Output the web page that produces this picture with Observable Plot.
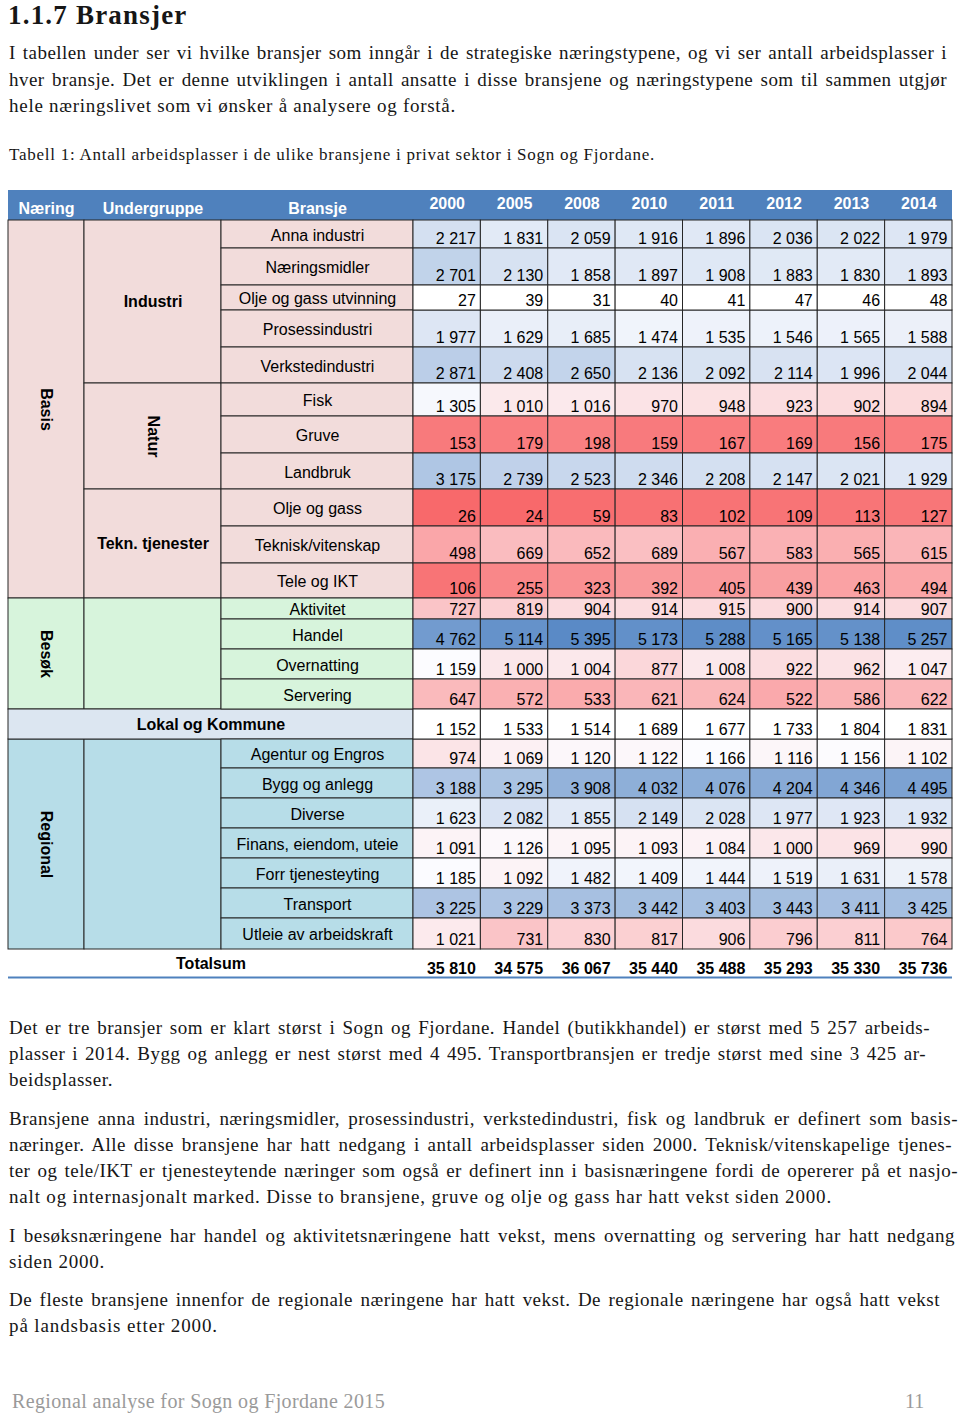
<!DOCTYPE html>
<html><head><meta charset="utf-8">
<script src="https://cdn.jsdelivr.net/npm/d3@7"></script>
<script src="https://cdn.jsdelivr.net/npm/@observablehq/plot@0.6"></script>
<style>
html,body{margin:0;padding:0;background:#fff;}
body{width:960px;height:1413px;position:relative;overflow:hidden;}
.serif{font-family:"Liberation Serif","DejaVu Serif",serif;color:#161616;position:absolute;left:9px;}
.line{display:block;width:max-content;white-space:nowrap;}
#table{position:absolute;left:0;top:185px;}
</style></head><body>
<div id="table"></div>
<script>
// ---------- DATA ----------
const years = ["2000","2005","2008","2010","2011","2012","2013","2014"];
const bransjer = ["Anna industri","Næringsmidler","Olje og gass utvinning","Prosessindustri","Verkstedindustri",
  "Fisk","Gruve","Landbruk","Olje og gass","Teknisk/vitenskap","Tele og IKT",
  "Aktivitet","Handel","Overnatting","Servering","Lokal og Kommune",
  "Agentur og Engros","Bygg og anlegg","Diverse","Finans, eiendom, uteie","Forr tjenesteyting","Transport","Utleie av arbeidskraft"];
const naering = ["Basis","Basis","Basis","Basis","Basis","Basis","Basis","Basis","Basis","Basis","Basis",
  "Besøk","Besøk","Besøk","Besøk","Lokal og Kommune",
  "Regional","Regional","Regional","Regional","Regional","Regional","Regional"];
const undergruppe = ["Industri","Industri","Industri","Industri","Industri","Natur","Natur","Natur",
  "Tekn. tjenester","Tekn. tjenester","Tekn. tjenester","","","","","","","","","","","",""];
const verdier = [
  [2217,1831,2059,1916,1896,2036,2022,1979],
  [2701,2130,1858,1897,1908,1883,1830,1893],
  [27,39,31,40,41,47,46,48],
  [1977,1629,1685,1474,1535,1546,1565,1588],
  [2871,2408,2650,2136,2092,2114,1996,2044],
  [1305,1010,1016,970,948,923,902,894],
  [153,179,198,159,167,169,156,175],
  [3175,2739,2523,2346,2208,2147,2021,1929],
  [26,24,59,83,102,109,113,127],
  [498,669,652,689,567,583,565,615],
  [106,255,323,392,405,439,463,494],
  [727,819,904,914,915,900,914,907],
  [4762,5114,5395,5173,5288,5165,5138,5257],
  [1159,1000,1004,877,1008,922,962,1047],
  [647,572,533,621,624,522,586,622],
  [1152,1533,1514,1689,1677,1733,1804,1831],
  [974,1069,1120,1122,1166,1116,1156,1102],
  [3188,3295,3908,4032,4076,4204,4346,4495],
  [1623,2082,1855,2149,2028,1977,1923,1932],
  [1091,1126,1095,1093,1084,1000,969,990],
  [1185,1092,1482,1409,1444,1519,1631,1578],
  [3225,3229,3373,3442,3403,3443,3411,3425],
  [1021,731,830,817,906,796,811,764]
];
const totalsum = [35810,34575,36067,35440,35488,35293,35330,35736];
const utenFarge = ["Olje og gass utvinning","Lokal og Kommune"];
const headerLabels = ["Næring","Undergruppe","Bransje"];

// ---------- LAYOUT ----------
const svgTop = 185;
const colEdges = [8, 84, 221, 413, 952];
const rowHeights = [28,37,25,37,36,33,37,36,37,37,35,21,30,30,30,30,29,30,30,30,30,30,31];
const headerY = [190, 220];
const totalY = 963, totalNumY = 968, totalLineY = 977;
const groupFill = {"Basis":"#F2DCDB","Besøk":"#D7F4DC","Lokal og Kommune":"#DCE6F1","Regional":"#B7DDE8"};
const headerFill = "#4F81BD";
const border = "#262626";

const yw = (colEdges[4]-colEdges[3])/years.length;
const yearX1 = i => colEdges[3] + i*yw;
const rowTop = []; let acc = headerY[1] - svgTop;
rowHeights.forEach(h => {rowTop.push(acc); acc += h;});
const rowBot = rowTop.map((t,i)=>t+rowHeights[i]);

const nb = d3.formatLocale({decimal:",", thousands:"\u00a0", grouping:[3], currency:["","kr"]}).format(",d");

const rows = bransjer.map((b,i)=>({b, n:naering[i], u:undergruppe[i], y1:rowTop[i], y2:rowBot[i]}));
function spans(key, filt){
  const out=[]; rows.forEach((r,i)=>{
    if(!filt(r)) return;
    const last=out[out.length-1];
    if(last && last.k===r[key] && last.n===r.n && last.end===i-1){last.end=i; last.y2=r.y2;}
    else out.push({k:r[key], n:r.n, start:i, end:i, y1:r.y1, y2:r.y2});
  }); return out;
}
const nSpans = spans("n", r=>r.n!=="Lokal og Kommune");
const uSpans = spans("u", r=>r.n!=="Lokal og Kommune");
const lokal = rows.filter(r=>r.n==="Lokal og Kommune");
const bRows = rows.filter(r=>r.n!=="Lokal og Kommune");

const cells = [];
rows.forEach((r,i)=>years.forEach((yr,j)=>cells.push({
  v: verdier[i][j], yr, b:r.b, x1:yearX1(j), x2:yearX1(j+1), y1:r.y1, y2:r.y2,
  farget: !utenFarge.includes(r.b)})));
const totals = totalsum.map((v,j)=>({v, x:yearX1(j+1)-5}));

const headerCells = headerLabels.map((t,i)=>({t, x:(colEdges[i]+colEdges[i+1])/2}));
const yearHead = years.map((t,j)=>({t, x:(yearX1(j)+yearX1(j+1))/2}));

const chart = Plot.plot({
  width: 960, height: 800, margin: 0,
  x: {type:"identity", axis:null}, y: {type:"identity", axis:null},
  color: {type:"linear", domain:[24, 1160, 5395], range:["#F8696B","#FCFCFF","#5A8AC6"], interpolate:"rgb"},
  style: {fontFamily:"'Liberation Sans', Arial, sans-serif", background:"transparent", overflow:"visible"},
  marks: [
    Plot.rect([0], {x1:colEdges[0], x2:colEdges[4], y1:headerY[0]-svgTop, y2:headerY[1]-svgTop, fill:headerFill}),
    Plot.text(headerCells, {x:"x", y:208-svgTop, text:"t", fill:"white", fontWeight:"bold", fontSize:16}),
    Plot.text(yearHead, {x:"x", y:203-svgTop, text:"t", fill:"white", fontWeight:"bold", fontSize:16}),
    Plot.rect(nSpans, {x1:colEdges[0], x2:colEdges[1], y1:"y1", y2:"y2", fill:d=>groupFill[d.n], stroke:border}),
    Plot.text(nSpans, {x:(colEdges[0]+colEdges[1])/2, y:d=>(d.y1+d.y2)/2, text:"k", rotate:90, fontWeight:"bold", fontSize:16, fill:"black"}),
    Plot.rect(uSpans, {x1:colEdges[1], x2:colEdges[2], y1:"y1", y2:"y2", fill:d=>groupFill[d.n], stroke:border}),
    Plot.text(uSpans.filter(d=>d.k && d.k!=="Natur"), {x:(colEdges[1]+colEdges[2])/2, y:d=>(d.y1+d.y2)/2, text:"k", fontWeight:"bold", fontSize:16, fill:"black"}),
    Plot.text(uSpans.filter(d=>d.k==="Natur"), {x:(colEdges[1]+colEdges[2])/2, y:d=>(d.y1+d.y2)/2, text:"k", rotate:90, fontWeight:"bold", fontSize:16, fill:"black"}),
    Plot.rect(lokal, {x1:colEdges[0], x2:colEdges[3], y1:"y1", y2:"y2", fill:d=>groupFill[d.n], stroke:border}),
    Plot.text(lokal, {x:(colEdges[0]+colEdges[3])/2, y:d=>(d.y1+d.y2)/2+0.5, text:"b", fontWeight:"bold", fontSize:16, fill:"black"}),
    Plot.rect(bRows, {x1:colEdges[2], x2:colEdges[3], y1:"y1", y2:"y2", fill:d=>groupFill[d.n], stroke:border}),
    Plot.text(bRows, {x:(colEdges[2]+colEdges[3])/2, y:d=>d.y1+(d.y2-d.y1)/2+1, text:"b", fontSize:16, fill:"black"}),
    Plot.rect(cells.filter(d=>d.farget), {x1:"x1", x2:"x2", y1:"y1", y2:"y2", fill:"v", stroke:border}),
    Plot.rect(cells.filter(d=>!d.farget), {x1:"x1", x2:"x2", y1:"y1", y2:"y2", fill:"white", stroke:border}),
    Plot.text(cells, {x:d=>d.x2-5, y:d=>d.y2-9.5, text:d=>nb(d.v), textAnchor:"end", fontSize:16, fill:"black"}),
    Plot.text(["Totalsum"], {x:(colEdges[0]+colEdges[3])/2, y:totalY-svgTop, text:d=>d, fontWeight:"bold", fontSize:16, fill:"black"}),
    Plot.text(totals, {x:"x", y:totalNumY-svgTop, text:d=>nb(d.v), textAnchor:"end", fontWeight:"bold", fontSize:16, fill:"black"}),
    Plot.ruleY([totalLineY-svgTop], {x1:colEdges[0], x2:colEdges[4], stroke:headerFill, strokeWidth:2})
  ]
});
document.getElementById("table").appendChild(chart);

// ---------- TEXT ----------
// widths: target line widths; nJust: number of leading lines that are justified
function para(lines, top, fs, lh, widths, nJust, color){
  const div=document.createElement("div");
  div.className="serif"; div.style.top=top+"px"; div.style.fontSize=fs+"px"; div.style.lineHeight=lh+"px";
  if(color) div.style.color=color;
  lines.forEach(t=>{const s=document.createElement("span"); s.className="line"; s.textContent=t; div.appendChild(s);});
  document.body.appendChild(div);
  [...div.children].forEach((s,i)=>{
    const w=widths && widths[i]; if(!w) return;
    const n=s.textContent.length;
    const nat=s.getBoundingClientRect().width;
    const just = i < nJust;
    const ls = (just ? 0.6 : 1) * (w-nat)/n;
    s.style.letterSpacing = ls+"px";
    if(just){
      const nat2=s.getBoundingClientRect().width;
      const sp=(s.textContent.match(/ /g)||[]).length;
      if(sp) s.style.wordSpacing=((w-nat2)/sp)+"px";
    }
  });
  return div;
}
const h=para(["1.1.7 Bransjer"], 0, 27, 30, [169], 0);
h.style.fontWeight="bold"; h.style.left="8px";
para(["I tabellen under ser vi hvilke bransjer som inngår i de strategiske næringstypene, og vi ser antall arbeidsplasser i",
      "hver bransje. Det er denne utviklingen i antall ansatte i disse bransjene og næringstypene som til sammen utgjør",
      "hele næringslivet som vi ønsker å analysere og forstå."], 40, 19, 26.5, [938, 938, 447], 2);
para(["Tabell 1: Antall arbeidsplasser i de ulike bransjene i privat sektor i Sogn og Fjordane."], 145, 17, 20, [646], 0);
para(["Det er tre bransjer som er klart størst i Sogn og Fjordane. Handel (butikkhandel) er størst med 5 257 arbeids-",
      "plasser i 2014. Bygg og anlegg er nest størst med 4 495. Transportbransjen er tredje størst med sine 3 425 ar-",
      "beidsplasser."], 1015, 19, 26, [921, 917, 104], 2);
para(["Bransjene anna industri, næringsmidler, prosessindustri, verkstedindustri, fisk og landbruk er definert som basis-",
      "næringer. Alle disse bransjene har hatt nedgang i antall arbeidsplasser siden 2000. Teknisk/vitenskapelige tjenes-",
      "ter og tele/IKT er tjenesteytende næringer som også er definert inn i basisnæringene fordi de opererer på et nasjo-",
      "nalt og internasjonalt marked. Disse to bransjene, gruve og olje og gass har hatt vekst siden 2000."], 1106, 19, 26, [949, 943, 949, 823], 3);
para(["I besøksnæringene har handel og aktivitetsnæringene hatt vekst, mens overnatting og servering har hatt nedgang",
      "siden 2000."], 1223, 19, 26, [946, 96], 1);
para(["De fleste bransjene innenfor de regionale næringene har hatt vekst. De regionale næringene har også hatt vekst",
      "på landsbasis etter 2000."], 1287, 19, 26, [931, 209], 1);
const f1=para(["Regional analyse for Sogn og Fjordane 2015"], 1389, 20, 24, [373], 0, "#9a9a9a"); f1.style.left="12px";
const f2=para(["11"], 1389, 20, 24, null, 0, "#9a9a9a"); f2.style.left="905px";
</script>
</body></html>
